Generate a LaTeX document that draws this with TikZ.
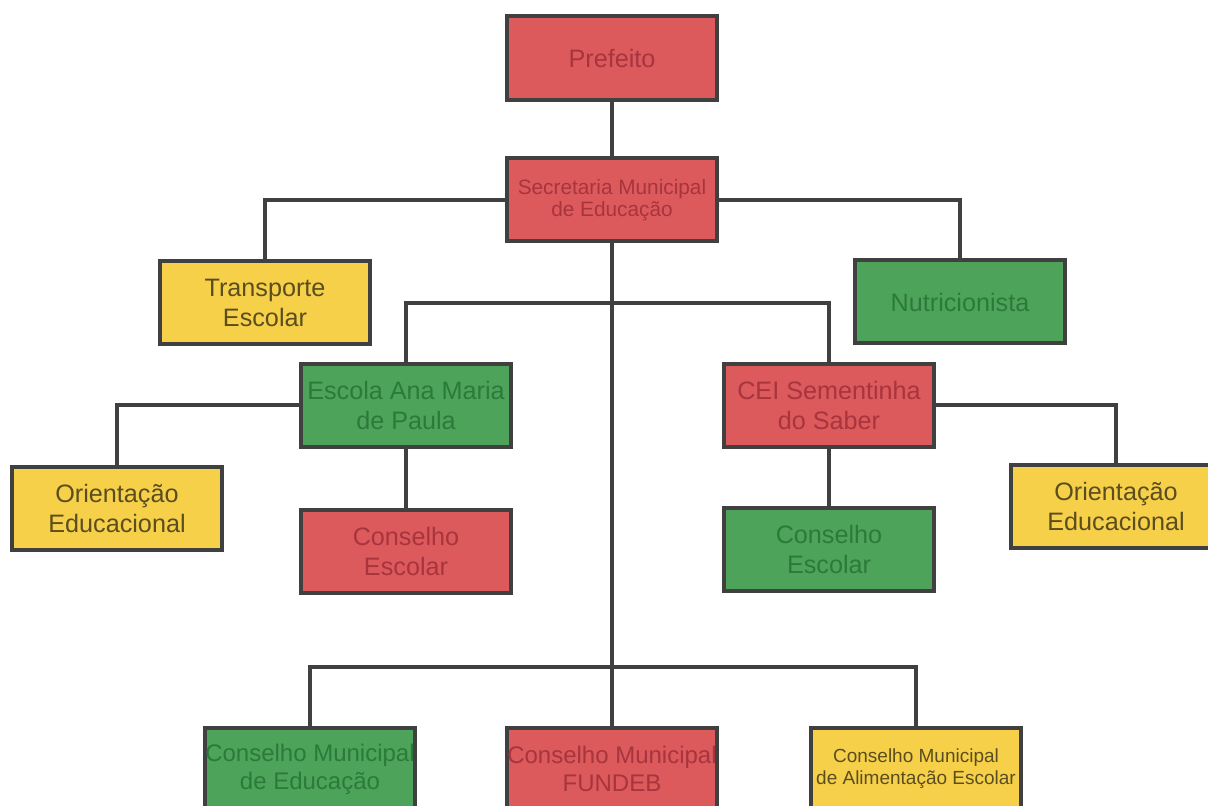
\documentclass[tikz,border=0pt]{standalone}
\usepackage{fontspec}
\setmainfont{Liberation Sans}
\definecolor{rfill}{HTML}{DC5A5C}
\definecolor{rtext}{HTML}{A8343E}
\definecolor{gfill}{HTML}{4DA35A}
\definecolor{gtext}{HTML}{2C7A3A}
\definecolor{yfill}{HTML}{F7D04A}
\definecolor{ytext}{HTML}{5A4E1E}
\definecolor{edge}{HTML}{404040}
\tikzset{
  box/.style={draw=edge, line width=2pt, minimum width=105pt, minimum height=41.5pt,
    inner sep=0pt, align=center, font=\fontsize{12.6}{15}\selectfont},
  redbox/.style={box, fill=rfill, text=rtext},
  greenbox/.style={box, fill=gfill, text=gtext},
  yellowbox/.style={box, fill=yfill, text=ytext},
  link/.style={draw=edge, line width=2pt}
}
\begin{document}
\begin{tikzpicture}[x=0.5pt, y=-0.5pt]
\useasboundingbox[fill=white] (0,0) rectangle (1208,806);
\node[redbox, minimum height=42pt] (pref) at (612,58) {Prefeito};
\node[redbox, font=\fontsize{10.4}{11}\selectfont] (sec) at (612,200) {Secretaria Municipal\\de Educação};
\node[yellowbox] (trans) at (265,303) {Transporte\\Escolar};
\node[greenbox] (nutri) at (960,302) {Nutricionista};
\node[greenbox] (escola) at (406,405.5) {Escola Ana Maria\\de Paula};
\node[redbox] (cei) at (829,405.5) {CEI Sementinha\\do Saber};
\node[yellowbox] (orl) at (117,508.5) {Orientação\\Educacional};
\node[redbox] (cel) at (406,551) {Conselho\\Escolar};
\node[greenbox] (cer) at (829,549) {Conselho\\Escolar};
\node[yellowbox] (orr) at (1116,506) {Orientação\\Educacional};
\node[greenbox, font=\fontsize{12}{14}\selectfont] (cme) at (310,769) {Conselho Municipal\\de Educação};
\node[redbox, font=\fontsize{12}{14}\selectfont] (fund) at (612,769) {Conselho Municipal\\FUNDEB};
\node[yellowbox, font=\fontsize{9.5}{11}\selectfont] (cmae) at (916,769) {Conselho Municipal\\de Alimentação Escolar};
\coordinate (mid) at (612,303);
\coordinate (low) at (612,667);
\draw[link] (pref) -- (sec);
\draw[link] (sec.west) -| (trans.north);
\draw[link] (sec.east) -| (nutri.north);
\draw[link] (sec.south) -- (fund.north);
\draw[link] (mid) -| (escola.north);
\draw[link] (mid) -| (cei.north);
\draw[link] (escola.west) -| (orl.north);
\draw[link] (escola.south) -- (cel.north);
\draw[link] (cei.east) -| (orr.north);
\draw[link] (cei.south) -- (cer.north);
\draw[link] (low) -| (cme.north);
\draw[link] (low) -| (cmae.north);
\end{tikzpicture}
\end{document}
